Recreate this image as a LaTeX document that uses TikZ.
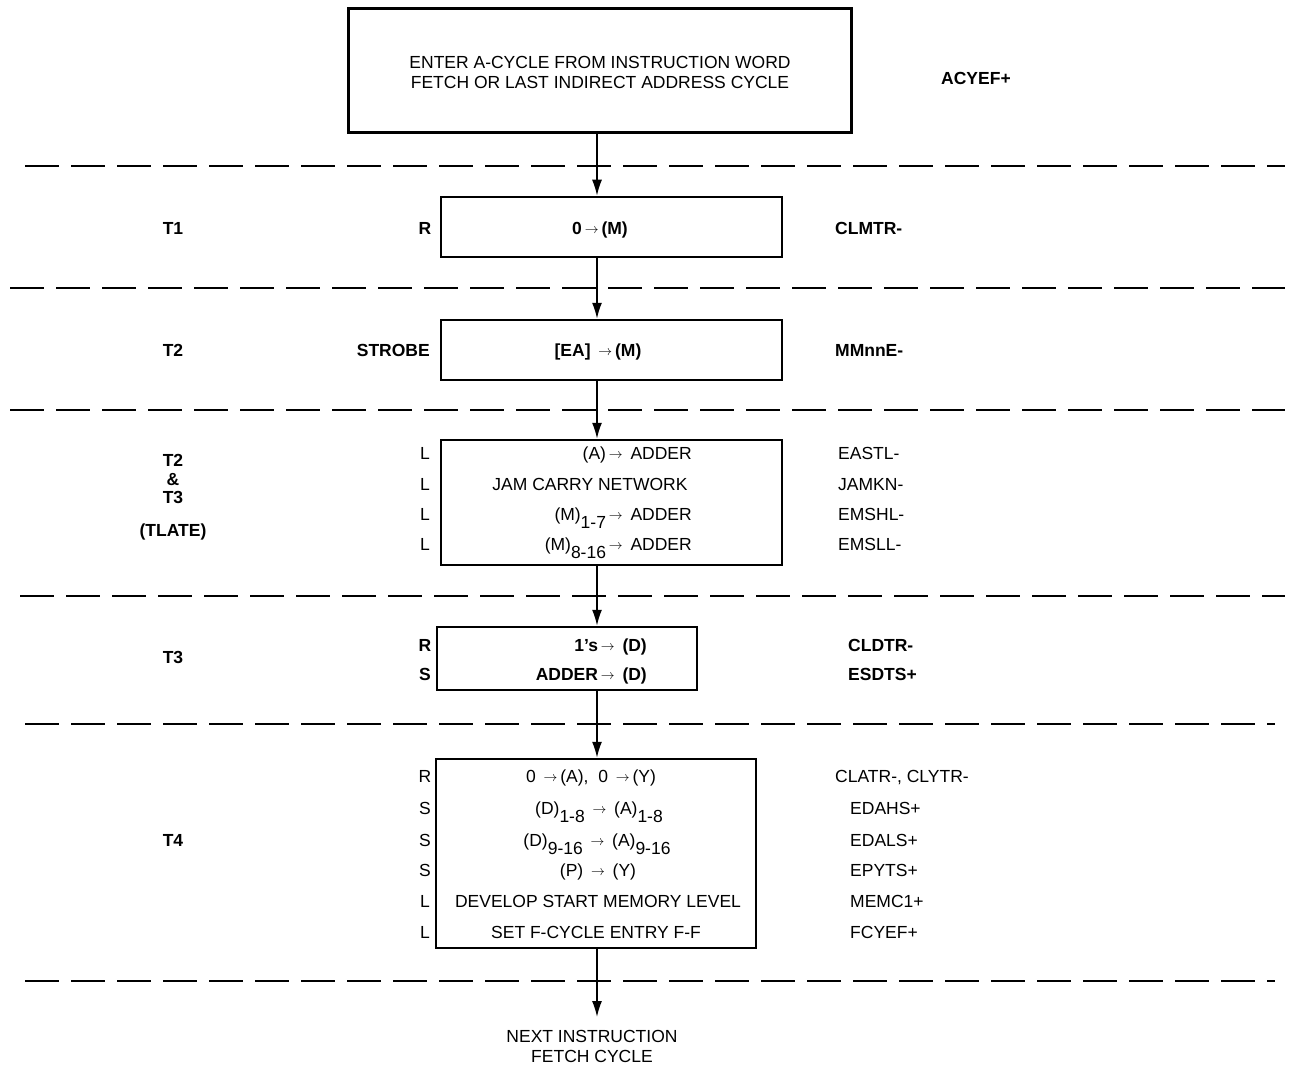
\documentclass[tikz,border=0pt]{standalone}
\usepackage{fontspec}
\setmainfont{Liberation Sans}
\usetikzlibrary{arrows.meta}
\newcommand\diagfont{\fontsize{17.5}{20}\selectfont}
\newcommand\tto{\,\raisebox{0.1ex}{\scalebox{0.8}{$\rightarrow$}}\,}
\newcommand\lowidx[1]{\raisebox{-0.8ex}{#1}}
\begin{document}
\begin{tikzpicture}[x=1pt, y=-1pt, font=\diagfont, inner sep=0pt,
    cellbox/.style = {draw, line width=2.5pt},
    flow/.style = {line width=1.6pt, -{Latex[length=16pt, width=10pt]}},
    phaseline/.style = {line width=2.2pt, dash pattern=on 34pt off 12pt},
    txt/.style = {anchor=mid, yshift=-4pt},
    timing/.style = {txt, font=\diagfont\bfseries},
    lvl/.style = {txt},
    sig/.style = {txt, anchor=mid west},
    op/.style = {txt},
    opr/.style = {txt, anchor=mid east},
    bold/.style = {font=\diagfont\bfseries}]
\useasboundingbox (0,0) rectangle (1291,1078);

% phase separators
\foreach \y/\xa/\xb in {166/25/1285, 288/10/1285, 410/10/1285, 596/20/1285, 724/25/1275, 981/25/1275}
    \draw[phaseline] (\xa,\y) -- (\xb,\y);

% boxes
\node[cellbox, line width=3pt, minimum width=503pt, minimum height=124pt] (entry) at (599.5,71) {};
\node[cellbox, minimum width=341pt, minimum height=60pt] (t1) at (611.5,227) {};
\node[cellbox, minimum width=341pt, minimum height=60pt] (t2) at (611.5,350) {};
\node[cellbox, minimum width=341pt, minimum height=125pt] (t23) at (611.5,502.5) {};
\node[cellbox, minimum width=260pt, minimum height=63pt] (t3) at (567,658.5) {};
\node[cellbox, minimum width=320pt, minimum height=189pt] (t4) at (596,853.5) {};

% entry
\node[op, align=center] (entrytxt) at (600,82) {ENTER A-CYCLE FROM INSTRUCTION WORD\\FETCH OR LAST INDIRECT ADDRESS CYCLE};
\node[sig, bold] (acyef) at (941,78) {ACYEF+};

% T1
\node[timing] (lt1) at (173,228) {T1};
\node[lvl, bold] (l1) at (425,228) {R};
\node[op, bold] (o1) at (600,228) {0\tto(M)};
\node[sig, bold] (clmtr) at (835,228) {CLMTR-};

% T2
\node[timing] (lt2) at (173,350) {T2};
\node[opr, bold] (strobe) at (430,350) {STROBE};
\node[op, bold] (o2) at (598,350) {[EA]\ \tto(M)};
\node[sig, bold] (mmnne) at (835,350) {MMnnE-};

% T2 & T3 (TLATE)
\node[timing, align=center] (lt23) at (173,497) {T2\\[-1.5pt]\&\\[-1.5pt]T3};
\node[timing] (ltlate) at (173,530) {(TLATE)};
\node[lvl] (l23a) at (425,453) {L};
\node[lvl] (l23b) at (425,484) {L};
\node[lvl] (l23c) at (425,514) {L};
\node[lvl] (l23d) at (425,544) {L};
\node[opr] (o23a) at (692,453) {(A)\tto\ ADDER};
\node[op] (o23b) at (590,484) {JAM CARRY NETWORK};
\node[opr] (o23c) at (692,514) {(M)\lowidx{1-7}\tto\ ADDER};
\node[opr] (o23d) at (692,544) {(M)\lowidx{8-16}\tto\ ADDER};
\node[sig] (eastl) at (838,453) {EASTL-};
\node[sig] (jamkn) at (838,484) {JAMKN-};
\node[sig] (emshl) at (838,514) {EMSHL-};
\node[sig] (emsll) at (838,544) {EMSLL-};

% T3
\node[timing] (lt3) at (173,657) {T3};
\node[lvl, bold] (l3a) at (425,645) {R};
\node[lvl, bold] (l3b) at (425,674) {S};
\node[opr, bold] (o3a) at (647,645) {1's\tto\ (D)};
\node[opr, bold] (o3b) at (647,674) {ADDER\tto\ (D)};
\node[sig, bold] (cldtr) at (848,645) {CLDTR-};
\node[sig, bold] (esdts) at (848,674) {ESDTS+};

% T4
\node[timing] (lt4) at (173,840) {T4};
\node[lvl] (l4a) at (425,776) {R};
\node[lvl] (l4b) at (425,808) {S};
\node[lvl] (l4c) at (425,840) {S};
\node[lvl] (l4d) at (425,870) {S};
\node[lvl] (l4e) at (425,901) {L};
\node[lvl] (l4f) at (425,932) {L};
\node[op] (o4a) at (591,776) {0\ \tto(A),\ \ 0\ \tto(Y)};
\node[op] (o4b) at (599,808) {(D)\lowidx{1-8}\ \tto\ (A)\lowidx{1-8}};
\node[op] (o4c) at (597,840) {(D)\lowidx{9-16}\ \tto\ (A)\lowidx{9-16}};
\node[op] (o4d) at (598,870) {(P)\ \tto\ (Y)};
\node[op] (o4e) at (598,901) {DEVELOP START MEMORY LEVEL};
\node[op] (o4f) at (596,932) {SET F-CYCLE ENTRY F-F};
\node[sig] (clatr) at (835,776) {CLATR-, CLYTR-};
\node[sig] (edahs) at (850,808) {EDAHS+};
\node[sig] (edals) at (850,840) {EDALS+};
\node[sig] (epyts) at (850,870) {EPYTS+};
\node[sig] (memc) at (850,901) {MEMC1+};
\node[sig] (fcyef) at (850,932) {FCYEF+};

% exit
\node[op, align=center] (next) at (592,1056) {NEXT INSTRUCTION\\FETCH CYCLE};
\coordinate (axis) at (597,0);
\coordinate (exit) at (597,1017);

% flow
\draw[flow] (entry.south -| axis) -- (t1.north -| axis);
\draw[flow] (t1.south -| axis) -- (t2.north -| axis);
\draw[flow] (t2.south -| axis) -- (t23.north -| axis);
\draw[flow] (t23.south -| axis) -- (t3.north -| axis);
\draw[flow] (t3.south -| axis) -- (t4.north -| axis);
\draw[flow] (t4.south -| axis) -- (exit);
\end{tikzpicture}
\end{document}
